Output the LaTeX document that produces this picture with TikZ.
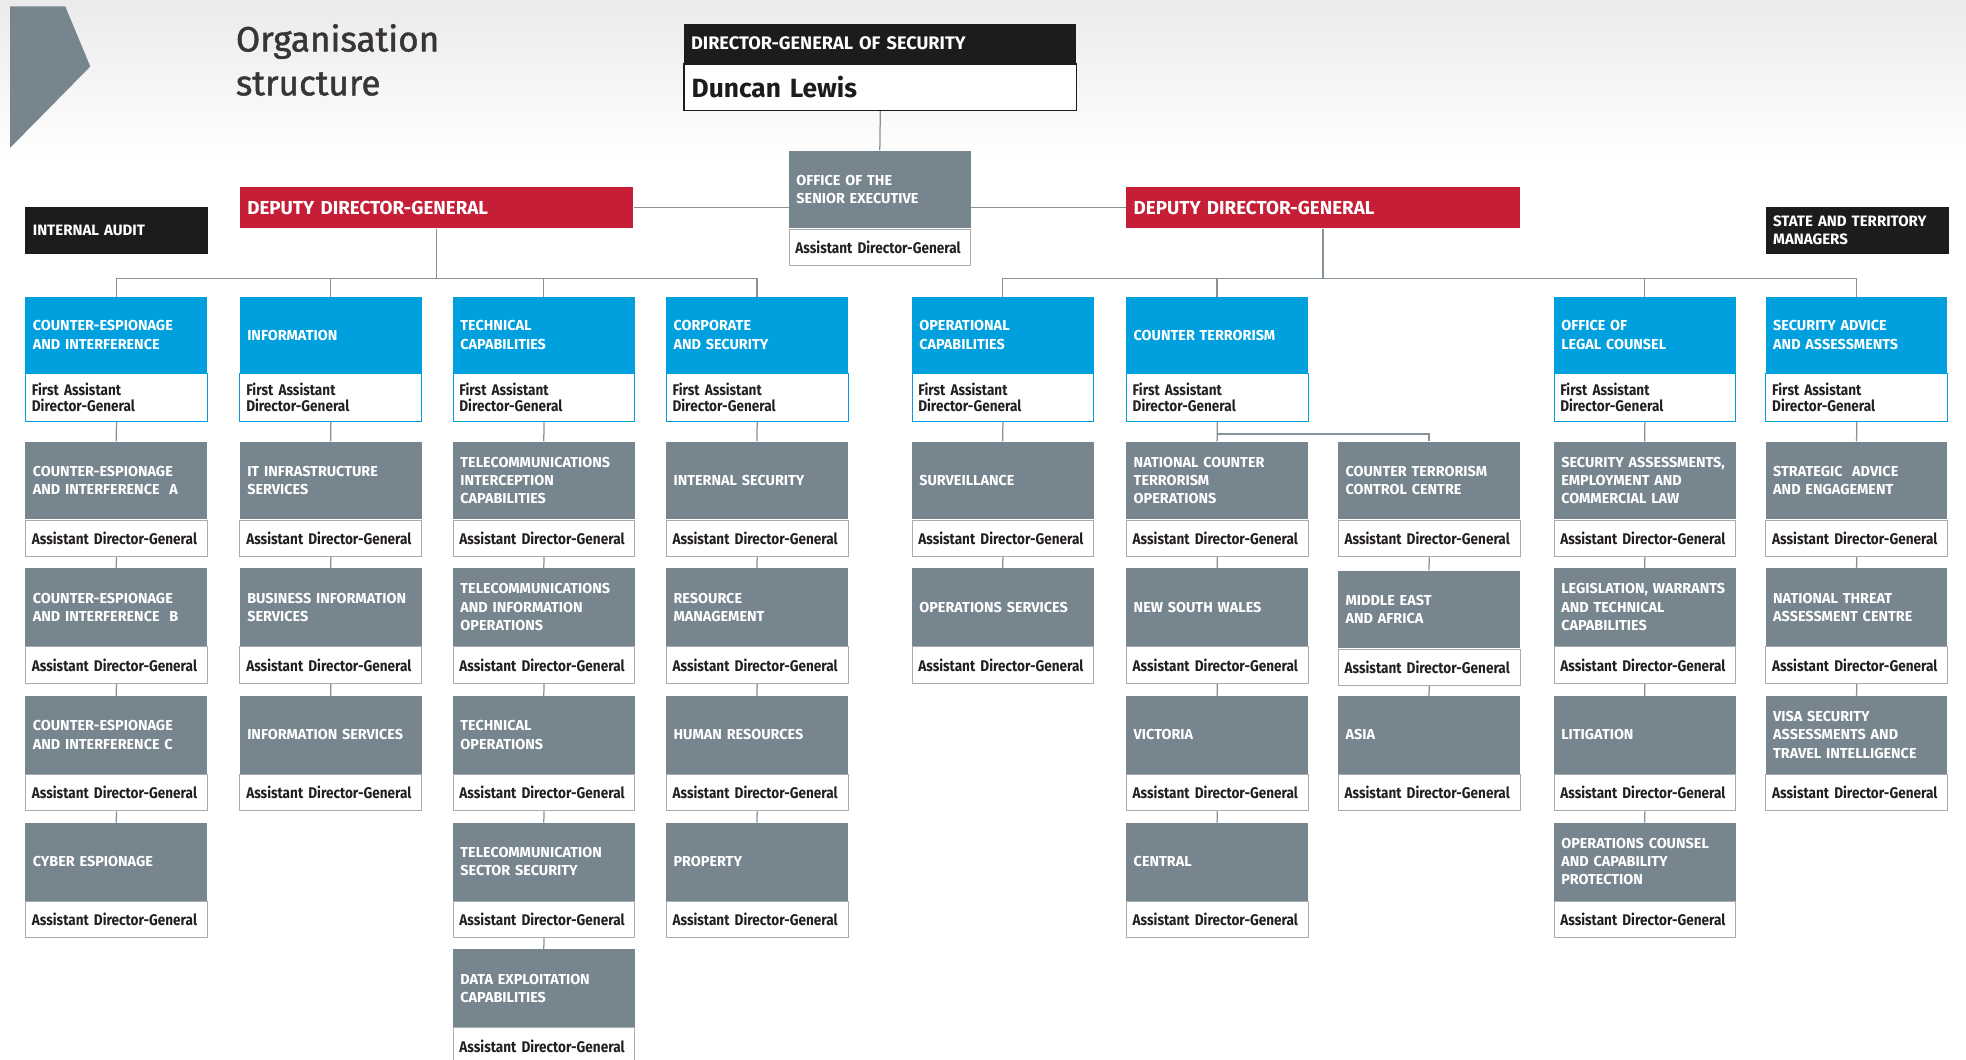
\documentclass[tikz,border=0pt]{standalone}
\usepackage{fontspec}
\setmainfont{Fira Sans}
\newfontfamily\narrowfont{Fira Sans}[FakeStretch=0.88]
\newfontfamily\titlefont{Fira Sans}[FakeBold=1.3]
\usetikzlibrary{positioning,backgrounds}

\definecolor{asioblue}{RGB}{0,160,223}
\definecolor{asiogray}{RGB}{119,133,143}
\definecolor{asiored}{RGB}{197,30,54}
\definecolor{asioblack}{RGB}{30,27,28}
\definecolor{asioline}{RGB}{135,145,152}
\definecolor{asioedge}{RGB}{165,172,178}
\definecolor{asiotext}{RGB}{35,31,32}

\tikzset{
  unitbox/.style={fill=asiogray, text=white, anchor=north west, font=\bfseries\fontsize{11.5}{14.5}\selectfont,
    text width=133pt, inner xsep=6pt, inner ysep=0pt, minimum height=62pt, align=left},
  subbox/.style={draw=asioedge, line width=0.8pt, fill=white, text=asiotext, anchor=north west,
    font=\narrowfont\bfseries\fontsize{12.3}{12}\selectfont, text width=135pt, inner xsep=5pt, inner ysep=0pt,
    minimum height=29pt, align=left},
  divbox/.style={unitbox, fill=asioblue, minimum height=60pt},
  divsub/.style={subbox, draw=asioblue, minimum height=38pt, font=\narrowfont\bfseries\fontsize{12.3}{12.5}\selectfont},
  headbox/.style={fill=asioblack, text=white, anchor=north west, font=\bfseries\fontsize{12}{14}\selectfont,
    inner xsep=6pt, inner ysep=0pt, align=left},
  deputy/.style={fill=asiored, text=white, anchor=north west, font=\bfseries\fontsize{15}{18}\selectfont,
    text width=302pt, inner xsep=6pt, inner ysep=0pt, minimum height=33pt, align=left},
  link/.style={draw=asioline, line width=1pt}
}

% a branch: grey title box with its officer below
\newcommand{\orgunit}[4]{%
  \node[unitbox] (#1) at (#2,#3) {#4};
  \node[subbox] (#1-s) at (#1.south west) {Assistant Director-General};
}
% a division: blue title box with its officer below
\newcommand{\division}[4]{%
  \node[divbox] (#1) at (#2,#3) {#4};
  \node[divsub] (#1-s) at (#1.south west) {First Assistant\\Director-General};
}

\begin{document}
\begin{tikzpicture}[x=1pt,y=-1pt]
\useasboundingbox (0,0) rectangle (1568,845);

% Banner
\fill[asiogray] (8,5) -- (52,5) -- (72,53) -- (8,118) -- cycle;
\node[anchor=north west, text=asiotext!90, font=\titlefont\fontsize{28}{35}\selectfont, align=left, inner sep=0pt] (title) at (188,19) {Organisation\\structure};

% Director-General
\node[headbox, text width=301pt, minimum height=31pt, font=\bfseries\fontsize{14.5}{16}\selectfont] (dg) at (545,19) {DIRECTOR-GENERAL OF SECURITY};
\node[draw=asioblack, line width=1.2pt, fill=white, anchor=north west, text width=301pt, inner xsep=6pt, inner ysep=0pt,
  minimum height=37pt, font=\bfseries\fontsize{21}{24}\selectfont, text=asioblack] (dgname) at (dg.south west) {Duncan Lewis};

\orgunit{ose}{629}{120}{OFFICE OF THE\\SENIOR EXECUTIVE}

% Deputies and side offices
\node[deputy] (ddgA) at (191,149) {DEPUTY DIRECTOR-GENERAL};
\node[deputy] (ddgB) at (898,149) {DEPUTY DIRECTOR-GENERAL};
\node[headbox, text width=134pt, minimum height=37pt] (audit) at (20,165) {INTERNAL AUDIT};
\node[headbox, text width=134pt, minimum height=37pt] (states) at (1408,165) {STATE AND TERRITORY\\MANAGERS};

% Divisions
\division{ce}{20}{237}{COUNTER-ESPIONAGE\\AND INTERFERENCE}
\division{info}{191}{237}{INFORMATION}
\division{tech}{361}{237}{TECHNICAL\\CAPABILITIES}
\division{corp}{531}{237}{CORPORATE\\AND SECURITY}
\division{opcap}{727}{237}{OPERATIONAL\\CAPABILITIES}
\division{ct}{898}{237}{COUNTER TERRORISM}
\division{olc}{1239}{237}{OFFICE OF\\LEGAL COUNSEL}
\division{saa}{1408}{237}{SECURITY ADVICE\\AND ASSESSMENTS}

% Branches
\orgunit{cea}{20}{352}{COUNTER-ESPIONAGE\\AND INTERFERENCE\ \ A}
\orgunit{ceb}{20}{453}{COUNTER-ESPIONAGE\\AND INTERFERENCE\ \ B}
\orgunit{cec}{20}{555}{COUNTER-ESPIONAGE\\AND INTERFERENCE C}
\orgunit{cyber}{20}{656}{CYBER ESPIONAGE}

\orgunit{itis}{191}{352}{IT INFRASTRUCTURE\\SERVICES}
\orgunit{bis}{191}{453}{BUSINESS INFORMATION\\SERVICES}
\orgunit{infs}{191}{555}{INFORMATION SERVICES}

\orgunit{tic}{361}{352}{TELECOMMUNICATIONS\\INTERCEPTION\\CAPABILITIES}
\orgunit{tio}{361}{453}{TELECOMMUNICATIONS\\AND INFORMATION\\OPERATIONS}
\orgunit{tops}{361}{555}{TECHNICAL\\OPERATIONS}
\orgunit{tss}{361}{656}{TELECOMMUNICATION\\SECTOR SECURITY}
\orgunit{dec}{361}{757}{DATA EXPLOITATION\\CAPABILITIES}

\orgunit{isec}{531}{352}{INTERNAL SECURITY}
\orgunit{resm}{531}{453}{RESOURCE\\MANAGEMENT}
\orgunit{hr}{531}{555}{HUMAN RESOURCES}
\orgunit{prop}{531}{656}{PROPERTY}

\orgunit{surv}{727}{352}{SURVEILLANCE}
\orgunit{opss}{727}{453}{OPERATIONS SERVICES}

\orgunit{ncto}{898}{352}{NATIONAL COUNTER\\TERRORISM\\OPERATIONS}
\orgunit{nsw}{898}{453}{NEW SOUTH WALES}
\orgunit{vic}{898}{555}{VICTORIA}
\orgunit{central}{898}{656}{CENTRAL}

\orgunit{ctcc}{1067}{352}{COUNTER TERRORISM\\CONTROL CENTRE}
\orgunit{mea}{1067}{455}{MIDDLE EAST\\AND AFRICA}
\orgunit{asia}{1067}{555}{ASIA}

\orgunit{saecl}{1239}{352}{SECURITY ASSESSMENTS,\\EMPLOYMENT AND\\COMMERCIAL LAW}
\orgunit{lwtc}{1239}{453}{LEGISLATION, WARRANTS\\AND TECHNICAL\\CAPABILITIES}
\orgunit{litig}{1239}{555}{LITIGATION}
\orgunit{occp}{1239}{656}{OPERATIONS COUNSEL\\AND CAPABILITY\\PROTECTION}

\orgunit{sae}{1408}{352}{STRATEGIC\ \ ADVICE\\AND ENGAGEMENT}
\orgunit{ntac}{1408}{453}{NATIONAL THREAT\\ASSESSMENT CENTRE}
\orgunit{vsa}{1408}{555}{VISA SECURITY\\ASSESSMENTS AND\\TRAVEL INTELLIGENCE}

% Lines and header tint, behind the boxes
\begin{scope}[on background layer]
  \shade[top color=black!8, bottom color=white] (0,0) rectangle (1568,130);
  \draw[link] (dgname.south) -- (ose.north);
  \draw[link] (ddgA.east) -- (ddgB.west);
  \coordinate (bus) at (0,222);
  \foreach \d in {ce,info,tech,corp}
    \draw[link] (ddgA.south) -- (ddgA.south |- bus) -| (\d.north);
  \foreach \d in {opcap,ct,olc,saa}
    \draw[link] (ddgB.south) -- (ddgB.south |- bus) -| (\d.north);
  \foreach \a/\b in {ce-s/cea, cea-s/ceb, ceb-s/cec, cec-s/cyber,
      info-s/itis, itis-s/bis, bis-s/infs,
      tech-s/tic, tic-s/tio, tio-s/tops, tops-s/tss, tss-s/dec,
      corp-s/isec, isec-s/resm, resm-s/hr, hr-s/prop,
      opcap-s/surv, surv-s/opss,
      ct-s/ncto, ncto-s/nsw, nsw-s/vic, vic-s/central,
      ctcc-s/mea, mea-s/asia,
      olc-s/saecl, saecl-s/lwtc, lwtc-s/litig, litig-s/occp,
      saa-s/sae, sae-s/ntac, ntac-s/vsa}
    \draw[link] (\a.south) -- (\b.north);
  \draw[link] (ct-s.south) -- ++(0,10) -| (ctcc.north);
\end{scope}
\end{tikzpicture}
\end{document}
